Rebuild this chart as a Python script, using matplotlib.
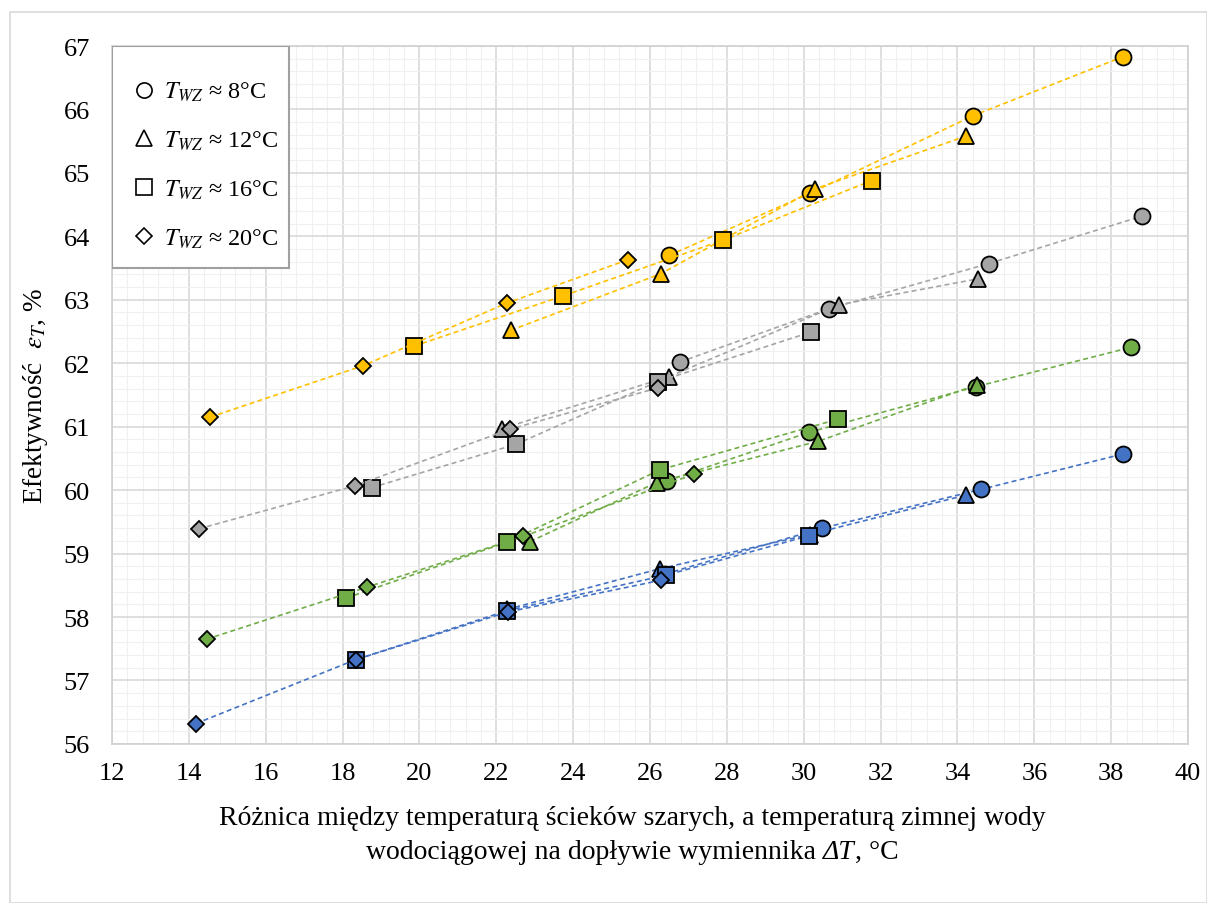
import numpy as np
import matplotlib
matplotlib.use("Agg")
import matplotlib.pyplot as plt
from matplotlib.lines import Line2D
from matplotlib.patches import Rectangle
from matplotlib.ticker import MultipleLocator
from matplotlib.offsetbox import TextArea, HPacker, VPacker, AnchoredOffsetbox

plt.rcParams['font.family'] = ['Liberation Serif', 'DejaVu Serif']
plt.rcParams['mathtext.fontset'] = 'stix'

# dane: x = dT [C], y = efektywnosc [%]
# kolejnosc serii w kazdym kolorze: kolo (8C), trojkat (12C), kwadrat (16C), romb (20C)
yellow_x = [[26.5, 30.17, 34.4, 38.3],
            [22.38, 26.28, 30.3, 34.22],
            [19.86, 23.73, 27.9, 31.77],
            [14.55, 18.53, 22.28, 25.42]]
yellow_y = [[63.7, 64.68, 65.9, 66.83],
            [62.52, 63.41, 64.75, 65.58],
            [62.27, 63.06, 63.94, 64.88],
            [61.15, 61.96, 62.95, 63.63]]

gray_x = [[26.78, 30.66, 34.81, 38.81],
          [22.15, 26.5, 30.91, 34.53],
          [18.76, 22.5, 26.2, 30.18],
          [14.26, 18.33, 22.35, 26.2]]
gray_y = [[62.02, 62.86, 63.57, 64.32],
          [60.97, 61.79, 62.92, 63.33],
          [60.04, 60.72, 61.71, 62.49],
          [59.39, 60.07, 60.96, 61.61]]

green_x = [[26.45, 30.13, 34.48, 38.51],
           [22.88, 26.17, 30.38, 34.5],
           [18.1, 22.28, 26.26, 30.9],
           [14.46, 18.63, 22.7, 27.14]]
green_y = [[60.15, 60.91, 61.63, 62.25],
           [59.19, 60.12, 60.77, 61.66],
           [58.3, 59.18, 60.32, 61.12],
           [57.65, 58.47, 59.27, 60.25]]

blue_x = [[26.4, 30.48, 34.6, 38.31],
          [22.28, 26.25, 30.15, 34.21],
          [18.35, 22.28, 26.42, 30.13],
          [14.18, 18.35, 22.3, 26.29]]
blue_y = [[58.68, 59.4, 60.01, 60.57],
          [58.12, 58.76, 59.3, 59.92],
          [57.33, 58.1, 58.66, 59.28],
          [56.32, 57.33, 58.08, 58.58]]

legend_labels = [r'$T_{WZ}$ ≈ 8°C', r'$T_{WZ}$ ≈ 12°C',
                 r'$T_{WZ}$ ≈ 16°C', r'$T_{WZ}$ ≈ 20°C']

markers = ['o', '^', 's', 'D']
msizes = [11.5, 11.5, 12, 8.5]

groups = [(yellow_x, yellow_y, '#FFC000'),
          (gray_x, gray_y, '#A5A5A5'),
          (green_x, green_y, '#70AD47'),
          (blue_x, blue_y, '#4472C4')]

fig = plt.figure(figsize=(12.07, 9.04), dpi=100)
ax = fig.add_axes([0.0928, 0.176, 0.8915, 0.772])

# ramka calego wykresu
fig.patches.append(Rectangle((0.008, 0.0), 0.992, 0.986, transform=fig.transFigure,
                             fill=False, edgecolor='#D9D9D9', linewidth=1.2))

for gx, gy, col in groups:
    for i in range(4):
        ax.plot(gx[i], gy[i], linestyle=(0, (3, 2)), color=col, linewidth=1.2,
                marker=markers[i], markersize=msizes[i], markerfacecolor=col,
                markeredgecolor='black', markeredgewidth=1.3, zorder=3)

ax.set_xlim(12, 40)
ax.set_ylim(56, 67)
ax.xaxis.set_major_locator(MultipleLocator(2))
ax.xaxis.set_minor_locator(MultipleLocator(0.4))
ax.yaxis.set_major_locator(MultipleLocator(1))
ax.yaxis.set_minor_locator(MultipleLocator(0.2))
ax.grid(which='major', color='#D9D9D9', linewidth=1.2, zorder=0)
ax.grid(which='minor', color='#F0F0F0', linewidth=0.8, zorder=0)
ax.set_axisbelow(True)
ax.tick_params(which='both', length=0, labelsize=19)
ax.tick_params(axis='y', pad=16)
ax.tick_params(axis='x', pad=13)
for s in ax.spines.values():
    s.set_color('#D0D0D0')
    s.set_linewidth(1.2)

ax.set_ylabel(r'Efektywność  $\varepsilon_T$, %', fontsize=19.5, labelpad=10)

# podpis osi X (kursywa dla Delta T)
fs = 20
line1 = TextArea('Różnica między temperaturą ścieków szarych, a temperaturą zimnej wody',
                 textprops=dict(fontsize=fs))
line2 = HPacker(children=[
    TextArea('wodociągowej na dopływie wymiennika ', textprops=dict(fontsize=fs)),
    TextArea('ΔT', textprops=dict(fontsize=fs, style='italic')),
    TextArea(', °C', textprops=dict(fontsize=fs))],
    align='baseline', pad=0, sep=0)
xlab = VPacker(children=[line1, line2], align='center', pad=0, sep=6)
box = AnchoredOffsetbox(loc='upper center', child=xlab, pad=0, frameon=False,
                        bbox_to_anchor=(0.524, 0.108), bbox_transform=fig.transFigure,
                        borderpad=0)
fig.add_artist(box)

# legenda: ramka rysowana osobno
ax.add_patch(Rectangle((0.0, 0.682), 0.1645, 0.318, transform=ax.transAxes,
                       facecolor='white', edgecolor='#A0A0A0', linewidth=1.5, zorder=5))
handles = [Line2D([], [], linestyle='none', marker=markers[i], markersize=msizes[i] * 0.95,
                  markerfacecolor='white', markeredgecolor='black', markeredgewidth=1.2)
           for i in range(4)]
leg = ax.legend(handles, legend_labels, loc='upper left', bbox_to_anchor=(0.0115, 0.965),
                fontsize=17.5, labelspacing=1.05, handletextpad=0.45, borderpad=0.4,
                borderaxespad=0, frameon=False, handlelength=0.8)
leg.set_zorder(6)

fig.savefig('out.png', dpi=100)
